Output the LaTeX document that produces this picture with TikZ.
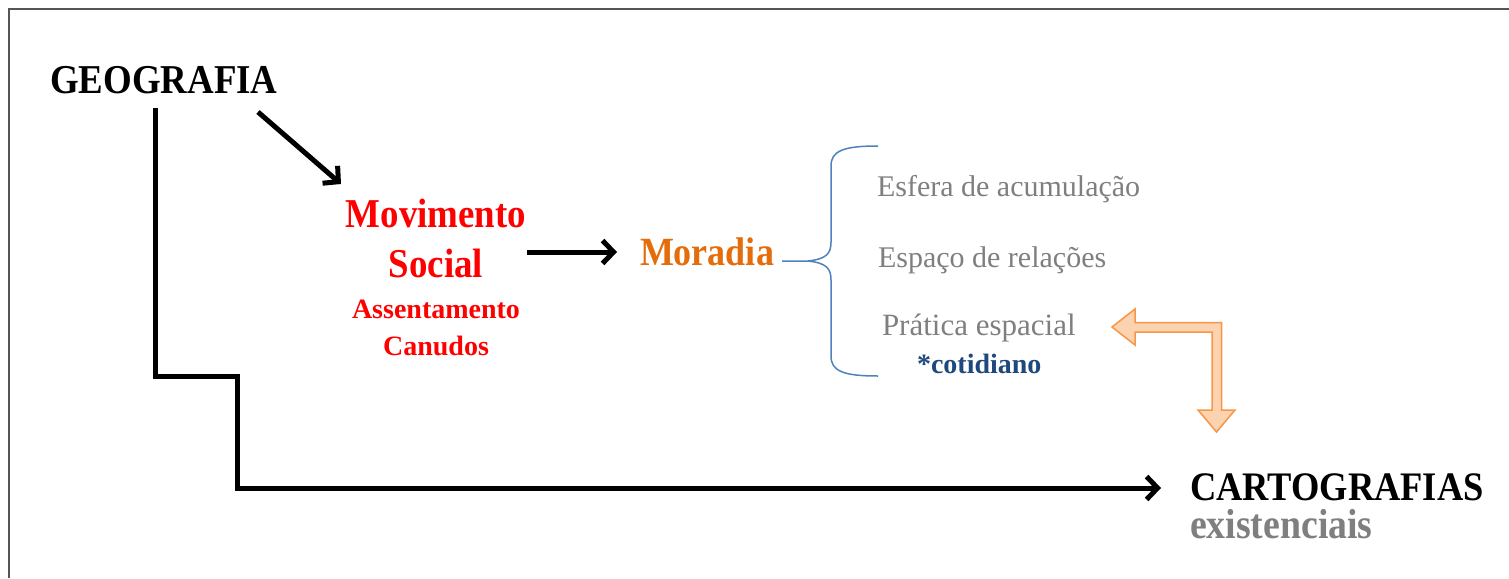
\documentclass[tikz,border=0pt]{standalone}
\usepackage{fontspec}
\setmainfont{Liberation Serif}
\newfontfamily\cond{Liberation Serif}[FakeStretch=0.9]
\usetikzlibrary{arrows.meta}
\definecolor{sred}{HTML}{FF0000}
\definecolor{sorange}{HTML}{E46C0A}
\definecolor{sgray}{HTML}{7F7F7F}
\definecolor{sblue}{HTML}{1F497D}
\definecolor{bracec}{HTML}{4F81BD}
\definecolor{arrline}{HTML}{F79646}
\definecolor{arrfill}{HTML}{FCD3B0}
\definecolor{framec}{HTML}{555555}
\begin{document}
\begin{tikzpicture}[x=1pt,y=-1pt,
  txt/.style={inner sep=0pt, outer sep=0pt},
  conn/.style={line width=5pt, -{Straight Barb[length=11pt,width=23pt]}}]
\useasboundingbox (0,0) rectangle (1509,578);
\draw[framec, line width=1.6pt] (9,578) -- (9,9) -- (1509,9);

% texts
\node[txt, anchor=base west] (geo) at (50,93) {\cond\fontsize{41}{44}\selectfont\bfseries GEOGRAFIA};
\node[txt, anchor=base, text=sred] (mov) at (436,227) {\cond\fontsize{41}{44}\selectfont\bfseries Movimento};
\node[txt, anchor=base, text=sred] (soc) at (436,277) {\cond\fontsize{41}{44}\selectfont\bfseries Social};
\node[txt, anchor=base, text=sred] (ass) at (436,318) {\fontsize{28}{30}\selectfont\bfseries Assentamento};
\node[txt, anchor=base, text=sred] (can) at (436,355) {\fontsize{28}{30}\selectfont\bfseries Canudos};
\node[txt, anchor=base west, text=sorange] (mor) at (640,265) {\cond\fontsize{40}{44}\selectfont\bfseries Moradia};
\node[txt, anchor=base west, text=sgray] (esf) at (877,196) {\fontsize{30}{32}\selectfont Esfera de acumulação};
\node[txt, anchor=base west, text=sgray] (esp) at (878,267) {\fontsize{30}{32}\selectfont Espaço de relações};
\node[txt, anchor=base west, text=sgray] (pra) at (882,335) {\fontsize{31}{32}\selectfont Prática espacial};
\node[txt, anchor=base west, text=sblue] (cot) at (917,373) {\fontsize{28}{30}\selectfont\bfseries *cotidiano};
\node[txt, anchor=base west] (car) at (1190,500) {\cond\fontsize{40.5}{44}\selectfont\bfseries CARTOGRAFIAS};
\node[txt, anchor=base west, text=sgray] (exi) at (1190,538) {\cond\fontsize{42}{44}\selectfont\bfseries existenciais};

% coordinates
\coordinate (g0) at (155,108);
\coordinate (g1) at (155,376);
\coordinate (g2) at (237,376);
\coordinate (g3) at (237,488);
\coordinate (gend) at (1161,488);
\coordinate (d0) at (258,112);
\coordinate (d1) at (341,184);
\coordinate (m0) at (527,252);
\coordinate (m1) at (617,252);

% black connectors
\draw[conn, line join=miter] (g0) -- (g1) -- (g2) -- (g3) -- (gend);
\draw[conn] (d0) -- (d1);
\draw[conn] (m0) -- (m1);

% brace
\coordinate (b0) at (782,261);
\draw[bracec, line width=1.5pt] (b0) -- (808,261)
  .. controls (826,259) and (831,254) .. (831,242) -- (831,166)
  .. controls (831,151) and (843,146) .. (878,146);
\draw[bracec, line width=1.5pt] (808,261)
  .. controls (826,263) and (831,268) .. (831,280) -- (831,356)
  .. controls (831,371) and (843,376) .. (878,376);

% orange double arrow
\draw[arrline, fill=arrfill, line width=1.5pt, line join=miter]
  (1112,327) -- (1135,309) -- (1135,322.5) -- (1221.5,322.5) -- (1221.5,410)
  -- (1235,410) -- (1216.5,432) -- (1198,410) -- (1212,410) -- (1212,332)
  -- (1135,332) -- (1135,345) -- cycle;
\end{tikzpicture}
\end{document}
